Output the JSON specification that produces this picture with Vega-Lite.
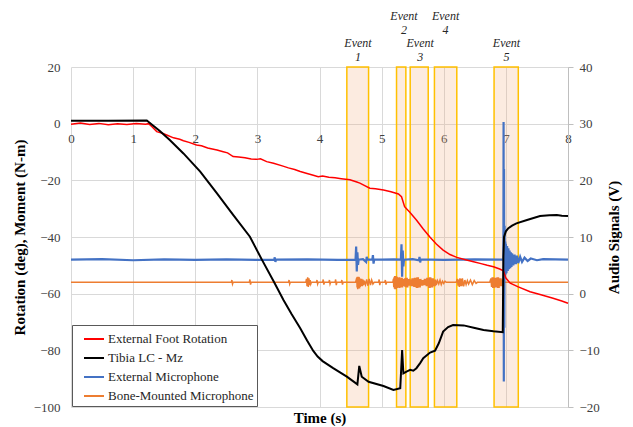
{
  "$schema": "https://vega.github.io/schema/vega-lite/v6.json",
  "width": 497,
  "height": 340,
  "autosize": {"type": "none"},
  "padding": {"left": 71, "top": 67, "right": 65, "bottom": 20},
  "background": "white",
  "config": {
    "view": {"stroke": null},
    "font": "Liberation Serif",
    "text": {"font": "Liberation Serif"},
    "axis": {"labelFont": "Liberation Serif", "labelFontSize": 13, "labelColor": "#404040", "titleFont": "Liberation Serif", "titleFontSize": 15, "titleFontWeight": "bold", "titleColor": "#000000", "gridColor": "#d9d9d9", "domainColor": "#bfbfbf", "tickColor": "#bfbfbf"},
    "legend": {"orient": "bottom-left", "offset": 1, "title": null, "labelFont": "Liberation Serif", "labelFontSize": 13, "labelColor": "#262626", "symbolType": "stroke", "symbolStrokeWidth": 2, "symbolSize": 400, "symbolOffset": 8, "strokeColor": "#595959", "fillColor": "white", "padding": 3, "rowPadding": 1, "labelOffset": 3, "cornerRadius": 0}
  },
  "datasets": {
    "events": [{"t": 4.44, "t2": 4.79}, {"t": 5.24, "t2": 5.39}, {"t": 5.46, "t2": 5.75}, {"t": 5.85, "t2": 6.21}, {"t": 6.81, "t2": 7.2}],
    "labels": [{"t": 4.62, "n": 1, "label": "Event 1"}, {"t": 5.36, "n": 2, "label": "Event 2"}, {"t": 5.62, "n": 3, "label": "Event 3"}, {"t": 6.03, "n": 4, "label": "Event 4"}, {"t": 7.01, "n": 5, "label": "Event 5"}],
    "red": [{"t":0,"v":-0.2},{"t":0.15,"v":0.2},{"t":0.3,"v":-0.3},{"t":0.45,"v":0.1},{"t":0.6,"v":-0.4},{"t":0.75,"v":0},{"t":0.9,"v":-0.3},{"t":1.05,"v":0.1},{"t":1.2,"v":-0.2},{"t":1.25,"v":0},{"t":1.3,"v":-1.0},{"t":1.38,"v":-2.8},{"t":1.46,"v":-3.3},{"t":1.54,"v":-4.0},{"t":1.65,"v":-5.0},{"t":1.75,"v":-5.5},{"t":1.81,"v":-6.0},{"t":1.9,"v":-6.6},{"t":2.02,"v":-7.5},{"t":2.1,"v":-7.8},{"t":2.2,"v":-8.6},{"t":2.35,"v":-9.3},{"t":2.45,"v":-9.9},{"t":2.52,"v":-10.3},{"t":2.61,"v":-11.6},{"t":2.7,"v":-11.8},{"t":2.8,"v":-12.0},{"t":2.9,"v":-12.5},{"t":2.99,"v":-12.6},{"t":3.05,"v":-12.4},{"t":3.15,"v":-13.4},{"t":3.26,"v":-14.0},{"t":3.4,"v":-14.9},{"t":3.5,"v":-15.6},{"t":3.6,"v":-16.2},{"t":3.69,"v":-16.9},{"t":3.8,"v":-17.6},{"t":3.9,"v":-18.2},{"t":3.98,"v":-18.7},{"t":4.05,"v":-18.5},{"t":4.15,"v":-18.9},{"t":4.25,"v":-19.1},{"t":4.35,"v":-19.4},{"t":4.49,"v":-19.8},{"t":4.6,"v":-20.6},{"t":4.65,"v":-21.0},{"t":4.72,"v":-21.8},{"t":4.81,"v":-22.8},{"t":4.9,"v":-23.0},{"t":5.03,"v":-23.4},{"t":5.15,"v":-24.0},{"t":5.27,"v":-24.8},{"t":5.32,"v":-25.8},{"t":5.37,"v":-29.3},{"t":5.45,"v":-31.2},{"t":5.56,"v":-34.0},{"t":5.67,"v":-37.2},{"t":5.78,"v":-40.1},{"t":5.88,"v":-42.5},{"t":5.99,"v":-44.6},{"t":6.1,"v":-46.2},{"t":6.21,"v":-47.2},{"t":6.35,"v":-48.0},{"t":6.48,"v":-48.7},{"t":6.6,"v":-49.4},{"t":6.7,"v":-50.0},{"t":6.8,"v":-50.5},{"t":6.9,"v":-51.3},{"t":6.96,"v":-51.9},{"t":7.0,"v":-54.5},{"t":7.07,"v":-56.3},{"t":7.2,"v":-57.6},{"t":7.39,"v":-59.3},{"t":7.55,"v":-60.3},{"t":7.76,"v":-61.6},{"t":7.9,"v":-62.6},{"t":8.0,"v":-63.4}],
    "black": [{"t":0,"v":1.0},{"t":0.6,"v":1.0},{"t":1.22,"v":1.1},{"t":1.3,"v":-0.3},{"t":1.43,"v":-2.6},{"t":1.59,"v":-5.8},{"t":1.81,"v":-10.5},{"t":2.08,"v":-16.9},{"t":2.35,"v":-24.6},{"t":2.61,"v":-32.2},{"t":2.88,"v":-39.9},{"t":3.07,"v":-47.9},{"t":3.27,"v":-56.0},{"t":3.42,"v":-62.2},{"t":3.55,"v":-67.2},{"t":3.69,"v":-72.2},{"t":3.8,"v":-76.5},{"t":3.9,"v":-80.2},{"t":3.97,"v":-82.2},{"t":4.05,"v":-83.8},{"t":4.22,"v":-86.3},{"t":4.44,"v":-89.3},{"t":4.61,"v":-92.0},{"t":4.64,"v":-85.5},{"t":4.68,"v":-89.3},{"t":4.79,"v":-91.1},{"t":5.03,"v":-92.6},{"t":5.19,"v":-94.0},{"t":5.3,"v":-93.4},{"t":5.33,"v":-79.9},{"t":5.35,"v":-88.1},{"t":5.4,"v":-87.5},{"t":5.46,"v":-86.9},{"t":5.51,"v":-87.2},{"t":5.56,"v":-86.3},{"t":5.62,"v":-84.5},{"t":5.67,"v":-82.8},{"t":5.78,"v":-80.8},{"t":5.86,"v":-80.1},{"t":5.92,"v":-77.5},{"t":5.99,"v":-73.4},{"t":6.07,"v":-71.8},{"t":6.15,"v":-71.1},{"t":6.32,"v":-71.2},{"t":6.5,"v":-72.1},{"t":6.64,"v":-72.8},{"t":6.8,"v":-73.3},{"t":6.95,"v":-73.6},{"t":6.96,"v":-46.9},{"t":6.97,"v":-40.0},{"t":7.0,"v":-38.0},{"t":7.04,"v":-36.9},{"t":7.1,"v":-36.0},{"t":7.17,"v":-35.2},{"t":7.34,"v":-34.0},{"t":7.55,"v":-32.6},{"t":7.7,"v":-32.3},{"t":7.82,"v":-32.2},{"t":7.9,"v":-32.5},{"t":8.0,"v":-32.6}],
    "blue": [{"t":0,"v":6.0},{"t":0.5,"v":6.1},{"t":1.0,"v":5.9},{"t":1.5,"v":6.05},{"t":2.0,"v":5.95},{"t":2.5,"v":6.05},{"t":3.0,"v":5.95},{"t":3.27,"v":6.0},{"t":3.28,"v":6.4},{"t":3.29,"v":5.6},{"t":3.3,"v":6.0},{"t":3.8,"v":6.05},{"t":4.3,"v":5.95},{"t":4.58,"v":6.0},{"t":4.59,"v":8.3},{"t":4.6,"v":3.9},{"t":4.61,"v":7.3},{"t":4.62,"v":5.1},{"t":4.63,"v":6.0},{"t":4.7,"v":6.1},{"t":4.75,"v":5.6},{"t":4.76,"v":6.5},{"t":4.77,"v":6.0},{"t":4.85,"v":6.0},{"t":4.86,"v":6.8},{"t":4.87,"v":5.3},{"t":4.88,"v":6.0},{"t":5.0,"v":6.0},{"t":5.2,"v":6.05},{"t":5.31,"v":6.0},{"t":5.32,"v":8.7},{"t":5.33,"v":3.0},{"t":5.34,"v":7.6},{"t":5.35,"v":4.8},{"t":5.36,"v":6.0},{"t":5.5,"v":6.1},{"t":5.6,"v":5.9},{"t":5.61,"v":6.5},{"t":5.62,"v":5.5},{"t":5.63,"v":6.0},{"t":5.8,"v":6.0},{"t":6.0,"v":5.95},{"t":6.5,"v":6.05},{"t":6.9,"v":6.0},{"t":6.96,"v":6.0},{"t":6.963,"v":30.3},{"t":6.967,"v":-15.5},{"t":6.97,"v":22},{"t":6.975,"v":-6},{"t":6.98,"v":12},{"t":6.985,"v":3.0},{"t":6.99,"v":9.2},{"t":6.995,"v":3.4},{"t":7.0,"v":8.8},{"t":7.01,"v":3.6},{"t":7.02,"v":8.4},{"t":7.03,"v":4.0},{"t":7.04,"v":8.0},{"t":7.05,"v":4.3},{"t":7.06,"v":7.6},{"t":7.07,"v":4.5},{"t":7.08,"v":7.3},{"t":7.09,"v":4.7},{"t":7.1,"v":7.1},{"t":7.12,"v":5.0},{"t":7.14,"v":6.9},{"t":7.16,"v":5.2},{"t":7.18,"v":6.7},{"t":7.2,"v":5.4},{"t":7.23,"v":6.5},{"t":7.26,"v":5.6},{"t":7.3,"v":6.35},{"t":7.35,"v":5.75},{"t":7.4,"v":6.2},{"t":7.5,"v":5.9},{"t":7.6,"v":6.1},{"t":8.0,"v":6.0}],
    "orange": [{"t":0,"v":2.0},{"t":2.58,"v":2.0},{"t":2.59,"v":2.4},{"t":2.6,"v":1.7},{"t":2.61,"v":2.0},{"t":2.87,"v":2.0},{"t":2.88,"v":2.5},{"t":2.89,"v":1.6},{"t":2.9,"v":2.0},{"t":3.5,"v":2.0},{"t":3.51,"v":2.4},{"t":3.52,"v":1.7},{"t":3.53,"v":2.0},{"t":3.78,"v":2.0},{"t":3.79,"v":2.6},{"t":3.8,"v":1.3},{"t":3.81,"v":2.9},{"t":3.82,"v":1.2},{"t":3.83,"v":2.7},{"t":3.84,"v":1.5},{"t":3.85,"v":2.4},{"t":3.86,"v":1.7},{"t":3.87,"v":2.0},{"t":3.95,"v":2.0},{"t":3.96,"v":2.4},{"t":3.97,"v":1.7},{"t":3.98,"v":2.0},{"t":4.05,"v":2.0},{"t":4.06,"v":2.5},{"t":4.07,"v":1.6},{"t":4.08,"v":2.0},{"t":4.15,"v":2.0},{"t":4.16,"v":2.4},{"t":4.17,"v":1.7},{"t":4.18,"v":2.0},{"t":4.25,"v":2.0},{"t":4.26,"v":2.5},{"t":4.27,"v":1.5},{"t":4.28,"v":2.0},{"t":4.35,"v":2.0},{"t":4.36,"v":2.4},{"t":4.37,"v":1.6},{"t":4.38,"v":2.0},{"t":4.58,"v":2.0},{"t":4.6,"v":2.8},{"t":4.605,"v":1.1},{"t":4.61,"v":3.0},{"t":4.615,"v":0.8},{"t":4.62,"v":2.9},{"t":4.625,"v":0.9},{"t":4.63,"v":3.0},{"t":4.635,"v":1.0},{"t":4.64,"v":2.9},{"t":4.645,"v":0.9},{"t":4.65,"v":2.7},{"t":4.655,"v":1.2},{"t":4.66,"v":2.6},{"t":4.67,"v":1.3},{"t":4.68,"v":2.6},{"t":4.69,"v":1.3},{"t":4.7,"v":2.5},{"t":4.71,"v":1.5},{"t":4.72,"v":2.3},{"t":4.74,"v":1.6},{"t":4.76,"v":2.5},{"t":4.78,"v":1.4},{"t":4.8,"v":2.6},{"t":4.82,"v":1.5},{"t":4.84,"v":2.4},{"t":4.86,"v":1.7},{"t":4.88,"v":2.0},{"t":4.95,"v":2.0},{"t":4.96,"v":2.5},{"t":4.97,"v":1.5},{"t":4.98,"v":2.0},{"t":5.05,"v":2.0},{"t":5.06,"v":2.4},{"t":5.07,"v":1.6},{"t":5.08,"v":2.0},{"t":5.18,"v":2.0},{"t":5.19,"v":2.6},{"t":5.195,"v":1.2},{"t":5.2,"v":2.9},{"t":5.205,"v":0.9},{"t":5.21,"v":3.1},{"t":5.215,"v":0.8},{"t":5.22,"v":3.0},{"t":5.225,"v":1.0},{"t":5.23,"v":3.1},{"t":5.235,"v":0.8},{"t":5.24,"v":3.0},{"t":5.245,"v":1.0},{"t":5.25,"v":3.0},{"t":5.255,"v":1.0},{"t":5.26,"v":2.8},{"t":5.265,"v":1.1},{"t":5.27,"v":2.8},{"t":5.275,"v":1.1},{"t":5.28,"v":2.9},{"t":5.285,"v":1.0},{"t":5.29,"v":2.9},{"t":5.295,"v":1.0},{"t":5.3,"v":2.7},{"t":5.305,"v":1.2},{"t":5.31,"v":2.7},{"t":5.315,"v":1.2},{"t":5.32,"v":2.8},{"t":5.325,"v":1.1},{"t":5.33,"v":2.8},{"t":5.335,"v":1.1},{"t":5.34,"v":2.6},{"t":5.345,"v":1.3},{"t":5.35,"v":2.6},{"t":5.36,"v":1.3},{"t":5.37,"v":2.7},{"t":5.38,"v":1.2},{"t":5.39,"v":2.8},{"t":5.4,"v":1.1},{"t":5.41,"v":2.8},{"t":5.42,"v":1.1},{"t":5.43,"v":2.6},{"t":5.44,"v":1.4},{"t":5.45,"v":2.6},{"t":5.46,"v":1.4},{"t":5.47,"v":2.5},{"t":5.48,"v":1.3},{"t":5.49,"v":2.7},{"t":5.5,"v":1.3},{"t":5.51,"v":2.7},{"t":5.52,"v":1.2},{"t":5.53,"v":2.8},{"t":5.54,"v":1.2},{"t":5.55,"v":2.8},{"t":5.56,"v":1.0},{"t":5.57,"v":2.9},{"t":5.58,"v":1.0},{"t":5.59,"v":2.9},{"t":5.6,"v":1.1},{"t":5.61,"v":2.6},{"t":5.62,"v":1.1},{"t":5.63,"v":2.6},{"t":5.64,"v":1.4},{"t":5.65,"v":2.4},{"t":5.66,"v":1.4},{"t":5.67,"v":2.4},{"t":5.68,"v":1.5},{"t":5.69,"v":2.6},{"t":5.7,"v":1.5},{"t":5.71,"v":2.6},{"t":5.72,"v":1.3},{"t":5.73,"v":2.8},{"t":5.74,"v":1.3},{"t":5.75,"v":2.8},{"t":5.76,"v":1.0},{"t":5.77,"v":2.9},{"t":5.78,"v":1.0},{"t":5.79,"v":2.9},{"t":5.8,"v":1.1},{"t":5.81,"v":2.7},{"t":5.82,"v":1.1},{"t":5.83,"v":2.7},{"t":5.84,"v":1.3},{"t":5.85,"v":2.5},{"t":5.86,"v":1.3},{"t":5.87,"v":2.5},{"t":5.88,"v":1.5},{"t":5.9,"v":2.3},{"t":5.92,"v":1.7},{"t":5.94,"v":2.4},{"t":5.96,"v":1.6},{"t":5.98,"v":2.2},{"t":6.0,"v":1.8},{"t":6.02,"v":2.2},{"t":6.04,"v":2.0},{"t":6.2,"v":2.0},{"t":6.22,"v":2.6},{"t":6.23,"v":1.4},{"t":6.24,"v":2.5},{"t":6.25,"v":1.2},{"t":6.26,"v":2.7},{"t":6.27,"v":1.3},{"t":6.28,"v":2.6},{"t":6.29,"v":1.3},{"t":6.3,"v":2.7},{"t":6.32,"v":1.3},{"t":6.34,"v":2.4},{"t":6.36,"v":1.6},{"t":6.38,"v":2.3},{"t":6.4,"v":1.7},{"t":6.43,"v":2.4},{"t":6.46,"v":1.6},{"t":6.49,"v":2.3},{"t":6.52,"v":1.8},{"t":6.54,"v":2.0},{"t":6.74,"v":2.0},{"t":6.76,"v":2.7},{"t":6.77,"v":1.2},{"t":6.78,"v":2.9},{"t":6.79,"v":1.0},{"t":6.8,"v":2.9},{"t":6.81,"v":1.0},{"t":6.82,"v":2.8},{"t":6.83,"v":1.1},{"t":6.84,"v":2.8},{"t":6.85,"v":1.1},{"t":6.86,"v":2.9},{"t":6.87,"v":1.0},{"t":6.88,"v":2.9},{"t":6.89,"v":1.0},{"t":6.9,"v":2.7},{"t":6.91,"v":1.3},{"t":6.92,"v":2.7},{"t":6.93,"v":1.3},{"t":6.94,"v":2.5},{"t":6.95,"v":1.6},{"t":6.97,"v":2.0},{"t":8.0,"v":2.0}]
  },
  "encoding": {
    "x": {"field": "t", "type": "quantitative", "scale": {"domain": [0, 8], "nice": false},
      "axis": {"title": "Time (s)", "values": [0, 1, 2, 3, 4, 5, 6, 7, 8], "grid": true, "domain": false, "ticks": false, "offset": -283.3, "labelPadding": 9, "labelFlush": false, "labelFont": "Liberation Serif", "titleFont": "Liberation Serif", "titleY": 299, "titleBaseline": "alphabetic"}}
  },
  "layer": [
    {
      "data": {"name": "events"},
      "mark": {"type": "rect", "fill": "#f4b183", "fillOpacity": 0.25, "stroke": "#ffc000", "strokeWidth": 1.5},
      "encoding": {"x2": {"field": "t2"}}
    },
    {
      "layer": [
        {
          "data": {"name": "orange"},
          "mark": {"type": "line", "strokeWidth": 1.5},
          "encoding": {
            "y": {"field": "v", "type": "quantitative", "scale": {"domain": [-20, 40], "nice": false, "zero": false},
              "axis": {"orient": "right", "title": "Audio Signals (V)", "values": [-20, -10, 0, 10, 20, 30, 40], "grid": false, "domain": true, "ticks": true, "tickSize": 5, "labelPadding": 6, "labelFont": "Liberation Serif", "titleFont": "Liberation Serif", "titleAngle": -90, "titlePadding": 22}},
            "color": {"datum": "Bone-Mounted Microphone", "type": "nominal", "scale": {"domain": ["External Foot Rotation", "Tibia LC - Mz", "External Microphone", "Bone-Mounted Microphone"], "range": ["#ff0000", "#000000", "#4472c4", "#ed7d31"]}, "legend": {"labelFont": "Liberation Serif"}}
          }
        },
        {
          "data": {"name": "blue"},
          "mark": {"type": "line", "strokeWidth": 2.2},
          "encoding": {
            "y": {"field": "v", "type": "quantitative", "scale": {"domain": [-20, 40], "nice": false, "zero": false},
              "axis": {"orient": "right", "title": "Audio Signals (V)", "values": [-20, -10, 0, 10, 20, 30, 40], "grid": false, "domain": true, "ticks": true, "tickSize": 5, "labelPadding": 6, "labelFont": "Liberation Serif", "titleFont": "Liberation Serif", "titleAngle": -90, "titlePadding": 22}},
            "color": {"datum": "External Microphone", "type": "nominal", "scale": {"domain": ["External Foot Rotation", "Tibia LC - Mz", "External Microphone", "Bone-Mounted Microphone"], "range": ["#ff0000", "#000000", "#4472c4", "#ed7d31"]}, "legend": {"labelFont": "Liberation Serif"}}
          }
        }
      ]
    },
    {
      "layer": [
        {
          "data": {"name": "red"},
          "mark": {"type": "line", "strokeWidth": 1.5},
          "encoding": {
            "y": {"field": "v", "type": "quantitative", "scale": {"domain": [-100, 20], "nice": false, "zero": false},
              "axis": {"title": "Rotation (deg), Moment (N-m)", "values": [-100, -80, -60, -40, -20, 0, 20], "grid": true, "domain": false, "ticks": false, "labelPadding": 11, "labelFont": "Liberation Serif", "titleFont": "Liberation Serif", "titlePadding": 6}},
            "color": {"datum": "External Foot Rotation", "type": "nominal", "scale": {"domain": ["External Foot Rotation", "Tibia LC - Mz", "External Microphone", "Bone-Mounted Microphone"], "range": ["#ff0000", "#000000", "#4472c4", "#ed7d31"]}, "legend": {"labelFont": "Liberation Serif"}}
          }
        },
        {
          "data": {"name": "black"},
          "mark": {"type": "line", "strokeWidth": 2},
          "encoding": {
            "y": {"field": "v", "type": "quantitative", "scale": {"domain": [-100, 20], "nice": false, "zero": false},
              "axis": {"title": "Rotation (deg), Moment (N-m)", "values": [-100, -80, -60, -40, -20, 0, 20], "grid": true, "domain": false, "ticks": false, "labelPadding": 11, "labelFont": "Liberation Serif", "titleFont": "Liberation Serif", "titlePadding": 6}},
            "color": {"datum": "Tibia LC - Mz", "type": "nominal", "scale": {"domain": ["External Foot Rotation", "Tibia LC - Mz", "External Microphone", "Bone-Mounted Microphone"], "range": ["#ff0000", "#000000", "#4472c4", "#ed7d31"]}, "legend": {"labelFont": "Liberation Serif"}}
          }
        },
        {
          "data": {"name": "labels"},
          "transform": [{"filter": "datum.n % 2 == 1"}],
          "mark": {"type": "text", "font": "Liberation Serif", "fontStyle": "italic", "fontSize": 12, "lineBreak": " ", "lineHeight": 14, "baseline": "alphabetic", "align": "center", "color": "#262626"},
          "encoding": {"y": {"datum": 27.2, "type": "quantitative"}, "text": {"field": "label"}}
        },
        {
          "data": {"name": "labels"},
          "transform": [{"filter": "datum.n % 2 == 0"}],
          "mark": {"type": "text", "font": "Liberation Serif", "fontStyle": "italic", "fontSize": 12, "lineBreak": " ", "lineHeight": 14, "baseline": "alphabetic", "align": "center", "color": "#262626"},
          "encoding": {"y": {"datum": 36.7, "type": "quantitative"}, "text": {"field": "label"}}
        }
      ]
    }
  ],
  "resolve": {"scale": {"y": "independent"}}
}
